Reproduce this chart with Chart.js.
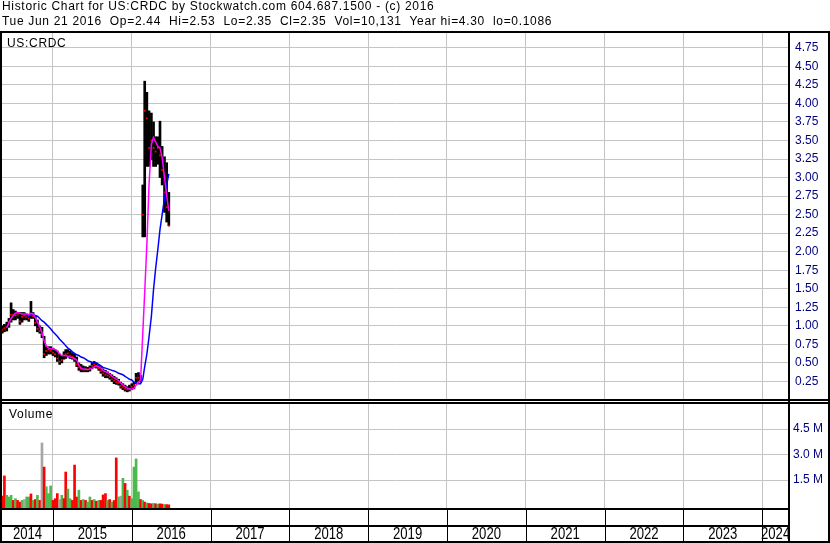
<!DOCTYPE html>
<html>
<head>
<meta charset="utf-8">
<script src="https://cdn.jsdelivr.net/npm/chart.js@4.4.1/dist/chart.umd.min.js"></script>
<style>
body { margin: 0; background: #fff; }
#wrap { position: relative; width: 830px; height: 543px; overflow: hidden; font-family: 'Liberation Sans', Arial, sans-serif; }
canvas { position: absolute; left: 0; }
#priceCv { top: 0; }
#volCv { top: 401px; }
.txt { position: absolute; font-size: 12px; line-height: 14px; letter-spacing: 0.68px; white-space: pre; color: #000; }
</style>
</head>
<body>
<div id="wrap">
<canvas id="priceCv" width="830" height="401"></canvas>
<canvas id="volCv" width="830" height="142"></canvas>
<div class="txt" style="left:2px;top:-1px">Historic Chart for US:CRDC by Stockwatch.com 604.687.1500 - (c) 2016</div>
<div class="txt" style="left:2px;top:14px">Tue Jun 21 2016  Op=2.44  Hi=2.53  Lo=2.35  Cl=2.35  Vol=10,131  Year hi=4.30  lo=0.1086</div>
<div class="txt" style="left:7px;top:36px">US:CRDC</div>
<div class="txt" style="left:9px;top:407px">Volume</div>
</div>
<script>
// dates (about every 10 days)
const dates = [
  '2014-05-11','2014-05-21','2014-06-01','2014-06-11','2014-06-21','2014-07-01','2014-07-11','2014-07-21',
  '2014-08-01','2014-08-11','2014-08-21','2014-09-01','2014-09-11','2014-09-21','2014-10-01','2014-10-11',
  '2014-10-21','2014-11-01','2014-11-11','2014-11-21','2014-12-01','2014-12-11','2014-12-21',
  '2015-01-01','2015-01-11','2015-01-21','2015-02-01','2015-02-11','2015-02-21','2015-03-01','2015-03-11',
  '2015-03-21','2015-04-01','2015-04-11','2015-04-21','2015-05-01','2015-05-11','2015-05-21','2015-06-01',
  '2015-06-11','2015-06-21','2015-07-01','2015-07-11','2015-07-21','2015-08-01','2015-08-11','2015-08-21',
  '2015-09-01','2015-09-11','2015-09-21','2015-10-01','2015-10-11','2015-10-21','2015-11-01','2015-11-11',
  '2015-11-21','2015-12-01','2015-12-11','2015-12-21',
  '2016-01-01','2016-01-11','2016-01-21','2016-02-01','2016-02-11','2016-02-21','2016-03-01','2016-03-11',
  '2016-03-21','2016-04-01','2016-04-11','2016-04-21','2016-05-01','2016-05-11','2016-05-21','2016-06-01',
  '2016-06-11','2016-06-21'
];

const highs = [
  1.00,1.02,1.05,1.10,1.31,1.22,1.20,1.18,1.18,1.18,1.18,1.16,1.14,1.33,1.18,1.13,1.08,1.00,0.98,0.86,0.72,0.72,0.72,
  0.70,0.68,0.66,0.62,0.60,0.65,0.68,0.68,0.66,0.64,0.62,0.58,0.50,0.48,0.46,0.45,0.44,0.46,0.50,0.52,0.50,0.47,
  0.45,0.42,0.40,0.38,0.36,0.34,0.32,0.30,0.28,0.24,0.22,0.20,0.18,0.20,
  0.22,0.24,0.36,0.37,0.33,2.90,4.30,4.15,3.90,3.87,3.75,3.55,3.55,3.76,3.42,3.28,3.20,2.80
];
const lows = [
  0.90,0.92,0.93,0.98,1.05,1.08,1.08,1.10,1.02,1.05,1.08,1.08,1.06,1.10,1.10,1.00,0.92,0.90,0.84,0.57,0.60,0.62,0.62,
  0.60,0.58,0.52,0.48,0.50,0.55,0.56,0.58,0.56,0.55,0.52,0.45,0.40,0.38,0.38,0.38,0.38,0.39,0.42,0.44,0.43,0.40,
  0.36,0.32,0.30,0.30,0.28,0.25,0.22,0.21,0.20,0.16,0.14,0.12,0.11,0.12,
  0.14,0.15,0.22,0.25,0.24,2.20,2.20,3.15,3.15,3.24,3.15,3.15,3.18,3.00,2.90,2.53,2.40,2.35
];
const closes = [
  0.95,0.97,0.98,1.05,1.15,1.15,1.14,1.15,1.06,1.12,1.14,1.12,1.10,1.15,1.13,1.04,0.96,0.93,0.88,0.62,0.66,0.68,0.66,
  0.64,0.62,0.56,0.52,0.54,0.60,0.62,0.63,0.60,0.58,0.55,0.48,0.44,0.42,0.41,0.42,0.41,0.43,0.46,0.48,0.46,0.43,
  0.39,0.36,0.34,0.33,0.31,0.28,0.26,0.24,0.23,0.19,0.17,0.15,0.14,0.15,
  0.18,0.20,0.30,0.30,0.28,2.50,3.90,3.80,3.40,3.50,3.40,3.35,3.40,3.30,3.10,2.80,2.60,2.35
];
// short moving average (magenta)
const maShort = [
  null,null,0.98,1.04,1.10,1.14,1.17,1.18,1.17,1.16,1.16,1.16,1.15,1.17,1.16,1.11,1.05,0.99,0.91,0.80,0.73,0.70,0.69,
  0.69,0.68,0.66,0.62,0.60,0.60,0.60,0.59,0.58,0.57,0.56,0.54,0.47,0.43,0.42,0.41,0.41,0.42,0.43,0.45,0.46,0.45,
  0.43,0.40,0.38,0.37,0.35,0.32,0.30,0.28,0.26,0.23,0.20,0.18,0.16,0.15,
  0.15,0.16,0.20,0.24,0.27,0.90,1.45,2.10,2.90,3.45,3.54,3.48,3.42,3.40,3.27,3.00,2.76,2.55
];
// long moving average (blue)
const maLong = [
  null,null,null,null,null,null,null,null,null,null,null,1.11,1.13,1.15,1.15,1.14,1.13,1.10,1.07,1.05,1.02,0.99,0.96,
  0.92,0.89,0.86,0.82,0.79,0.76,0.73,0.70,0.68,0.65,0.63,0.61,0.60,0.58,0.57,0.55,0.53,0.52,0.51,0.50,0.50,0.48,
  0.46,0.44,0.43,0.42,0.41,0.40,0.39,0.38,0.36,0.35,0.34,0.32,0.30,0.28,
  0.27,0.24,0.23,0.22,0.22,0.28,0.45,0.62,0.85,1.13,1.49,1.78,2.03,2.30,2.50,2.72,2.90,3.05
];
// volume in millions, r = down, g = up, n = unchanged
const volumes = [
  0.55,1.74,0.60,0.50,0.60,0.30,0.40,0.30,0.20,0.30,0.35,0.50,0.50,0.68,0.30,0.35,0.60,0.30,3.68,2.26,1.10,0.70,1.15,
  0.30,0.40,0.70,0.35,0.60,0.40,1.97,0.97,0.40,0.30,2.38,0.50,0.90,0.30,0.35,0.30,0.20,0.50,0.30,0.35,0.25,0.30,
  0.30,0.62,0.70,0.30,0.35,0.20,0.30,2.80,0.50,0.55,1.60,1.30,0.90,0.55,
  0.40,2.26,2.74,0.80,0.35,0.30,0.20,0.15,0.12,0.10,0.12,0.10,0.08,0.10,0.08,0.06,0.05,0.04
];
const volDir = 'rrgggrgrrgnggrgrgrnrggg' + 'rrrngrrggrrrgrgrggrgrgrrrgrgrrgngrgr' + 'ggggrgrgrrgrgrrgrr';

const priceTicks = [0.25,0.5,0.75,1,1.25,1.5,1.75,2,2.25,2.5,2.75,3,3.25,3.5,3.75,4,4.25,4.5,4.75];
const volTicks = [1500000, 3000000, 4500000];
const yearTicks = [2015,2016,2017,2018,2019,2020,2021,2022,2023,2024];
const yearLabels = ['2014','2015','2016','2017','2018','2019','2020','2021','2022','2023','2024'];

const xMin = 2014.353, xMax = 2024.34;
const priceMax = 4.963;
const volMin = -206000, volMax = 6030000;

const gridGray = '#c4c4c4';
const tickNavy = '#000080';

function toYear(s) {
    const d = new Date(s + 'T00:00:00Z');
    const y = d.getUTCFullYear();
    const a = Date.UTC(y, 0, 1), b = Date.UTC(y + 1, 0, 1);
    return y + (d.getTime() - a) / (b - a);
}
const xs = dates.map(toYear);
const pts = arr => arr.map((v, i) => ({ x: xs[i], y: v }));

function makeX() {
    return {
        type: 'linear', min: xMin, max: xMax, offset: false,
        afterBuildTicks: s => { s.ticks = yearTicks.map(v => ({ value: v })); },
        afterFit: s => { s.height = 0; s.paddingLeft = 0; s.paddingRight = 0; },
        ticks: { display: false },
        grid: { color: gridGray, drawTicks: false, offset: false },
        border: { display: false }
    };
}

// frame + separators for the price panel
const priceFrame = {
    id: 'priceFrame',
    afterDraw(chart) {
        const ctx = chart.ctx;
        ctx.save();
        ctx.fillStyle = '#000';
        ctx.fillRect(0, 31, 830, 2);
        ctx.fillRect(0, 31, 2, 370);
        ctx.fillRect(788, 31, 2, 370);
        ctx.fillRect(828, 31, 2, 370);
        ctx.fillRect(0, 399, 830, 2);
        ctx.restore();
    }
};

// frame, bottom date rows and year labels for the volume panel
const volFrame = {
    id: 'volFrame',
    afterDraw(chart) {
        const ctx = chart.ctx;
        const xs = chart.scales.x;
        const area = chart.chartArea;
        ctx.save();
        ctx.fillStyle = '#000';
        ctx.fillRect(0, 1, 830, 2);
        ctx.fillRect(0, 0, 2, 142);
        ctx.fillRect(788, 0, 2, 142);
        ctx.fillRect(828, 0, 2, 142);
        ctx.fillRect(0, 107, 790, 2);
        ctx.fillRect(0, 124, 790, 2);
        ctx.fillRect(0, 140, 830, 2);
        yearTicks.forEach(y => {
            const p = Math.round(xs.getPixelForValue(y));
            ctx.fillRect(p, 109, 1, 31);
        });
        ctx.font = "16px 'Liberation Sans', Arial, sans-serif";
        ctx.textAlign = 'center';
        ctx.textBaseline = 'middle';
        yearLabels.forEach(lab => {
            const y = +lab;
            const l = Math.max(area.left, xs.getPixelForValue(y));
            const r = Math.min(area.right, xs.getPixelForValue(y + 1));
            ctx.save();
            ctx.translate((l + r) / 2, 133.5);
            ctx.scale(0.82, 1);
            ctx.fillText(lab, 0, 0);
            ctx.restore();
        });
        ctx.restore();
    }
};

new Chart(document.getElementById('priceCv'), {
    type: 'bar',
    data: {
        datasets: [
            {
                type: 'line', data: pts(maShort), borderColor: '#ff00ff', borderWidth: 1.5,
                pointRadius: 0, tension: 0, order: 1
            },
            {
                type: 'line', data: pts(maLong), borderColor: '#0000ff', borderWidth: 1.5,
                pointRadius: 0, tension: 0, order: 2
            },
            {
                type: 'line', data: pts(closes), showLine: false, pointStyle: 'rect',
                pointRadius: 1.2, pointBackgroundColor: '#ff0000', pointBorderWidth: 0, order: 3
            },
            {
                data: xs.map((x, i) => ({ x: x, y: [lows[i], highs[i]] })),
                backgroundColor: '#000', borderWidth: 0, barThickness: 2, order: 4
            }
        ]
    },
    options: {
        responsive: false, animation: false, devicePixelRatio: 1,
        layout: { autoPadding: false, padding: { top: 32, left: 2, right: 0, bottom: 1 } },
        plugins: { legend: { display: false }, tooltip: { enabled: false } },
        scales: {
            x: makeX(),
            y: {
                position: 'right', min: 0, max: priceMax,
                afterBuildTicks: s => { s.ticks = priceTicks.map(v => ({ value: v })); },
                afterFit: s => { s.width = 41; s.paddingTop = 0; s.paddingBottom = 0; },
                ticks: {
                    color: tickNavy, padding: 6, autoSkip: false,
                    font: { family: "'Liberation Sans', Arial", size: 12 },
                    callback: v => v.toFixed(2)
                },
                grid: { color: gridGray, drawTicks: false },
                border: { display: false }
            }
        }
    },
    plugins: [priceFrame]
});

new Chart(document.getElementById('volCv'), {
    type: 'bar',
    data: {
        datasets: [{
            data: pts(volumes.map(v => v * 1000000)),
            backgroundColor: volDir.split('').map(c => c === 'r' ? '#ff0000' : c === 'g' ? '#4cb94c' : '#a6a6a6'),
            borderWidth: 0, barThickness: 2, base: volMin
        }]
    },
    options: {
        responsive: false, animation: false, devicePixelRatio: 1,
        layout: { autoPadding: false, padding: { top: 2, left: 2, right: 0, bottom: 34 } },
        plugins: { legend: { display: false }, tooltip: { enabled: false } },
        scales: {
            x: makeX(),
            y: {
                position: 'right', min: volMin, max: volMax,
                afterBuildTicks: s => { s.ticks = volTicks.map(v => ({ value: v })); },
                afterFit: s => { s.width = 41; s.paddingTop = 0; s.paddingBottom = 0; },
                ticks: {
                    color: tickNavy, padding: 4, autoSkip: false,
                    font: { family: "'Liberation Sans', Arial", size: 12 },
                    callback: v => (v / 1000000).toFixed(1) + ' M'
                },
                grid: { color: gridGray, drawTicks: false },
                border: { display: false }
            }
        }
    },
    plugins: [volFrame]
});
</script>
</body>
</html>
